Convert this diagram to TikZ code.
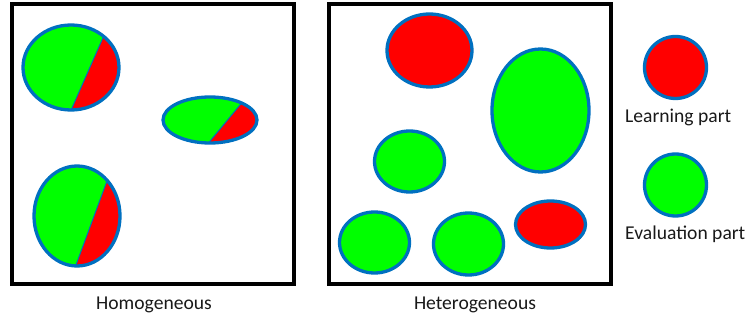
\documentclass[tikz,border=0pt]{standalone}
\usepackage{fontspec}
\setmainfont{Carlito}
\definecolor{pgreen}{RGB}{0,255,0}
\definecolor{pred}{RGB}{255,0,0}
\definecolor{pblue}{RGB}{0,112,192}
\tikzset{
  frame/.style={draw=black,line width=3.5pt},
  blob/.style={draw=pblue,line width=3.3pt},
  splitline/.style={draw=pblue,line width=1pt},
  lbl/.style={font=\fontsize{19.6}{23}\selectfont,inner sep=0pt,text=black!90}
}
\begin{document}
\begin{tikzpicture}[x=1pt,y=-1pt]
\useasboundingbox (0,0) rectangle (747,320);
% frames
\draw[frame] (12,4) rectangle (294,284);
\draw[frame] (329,4) rectangle (611,284);
% homogeneous split ellipses
\begin{scope}
\clip (71,67.5) ellipse [x radius=48, y radius=42.5];
\fill[pgreen] (0,0) rectangle (200,200);
\fill[pred] (117,6) -- (57,142) -- (200,142) -- (200,6) -- cycle;
\draw[splitline] (117,6) -- (57,142);
\end{scope}
\draw[blob] (71,67.5) ellipse [x radius=48, y radius=42.5];
\begin{scope}
\clip (210,120) ellipse [x radius=47, y radius=23];
\fill[pgreen] (150,80) rectangle (300,180);
\fill[pred] (269,70) -- (182,175) -- (300,175) -- (300,70) -- cycle;
\draw[splitline] (269,70) -- (182,175);
\end{scope}
\draw[blob] (210,120) ellipse [x radius=47, y radius=23];
\begin{scope}
\clip (77,216) ellipse [x radius=43, y radius=50];
\fill[pgreen] (0,140) rectangle (200,310);
\fill[pred] (121,143) -- (62,303) -- (200,303) -- (200,143) -- cycle;
\draw[splitline] (121,143) -- (62,303);
\end{scope}
\draw[blob] (77,216) ellipse [x radius=43, y radius=50];
% heterogeneous
\draw[blob,fill=pred] (429.5,50.5) ellipse [x radius=42.5, y radius=36.5];
\draw[blob,fill=pgreen] (540.5,110.5) ellipse [x radius=48.5, y radius=61.5];
\draw[blob,fill=pgreen] (409.5,161.5) ellipse [x radius=35, y radius=30.5];
\draw[blob,fill=pgreen] (374.5,242.5) ellipse [x radius=35, y radius=30.5];
\draw[blob,fill=pgreen] (468.5,244) ellipse [x radius=35, y radius=31];
\draw[blob,fill=pred] (550.5,224.5) ellipse [x radius=35, y radius=23.5];
% legend
\draw[blob,fill=pred] (675.5,67.5) circle [radius=31];
\draw[blob,fill=pgreen] (675.5,185) circle [radius=31];
\node[lbl,anchor=base west] (learn) at (625,123) {Learning part};
\node[lbl,anchor=base west] (eval) at (625,240) {Evaluation part};
% captions
\node[lbl,anchor=base] (homo) at (154,310) {Homogeneous};
\node[lbl,anchor=base] (hetero) at (475,310) {Heterogeneous};
\end{tikzpicture}
\end{document}
